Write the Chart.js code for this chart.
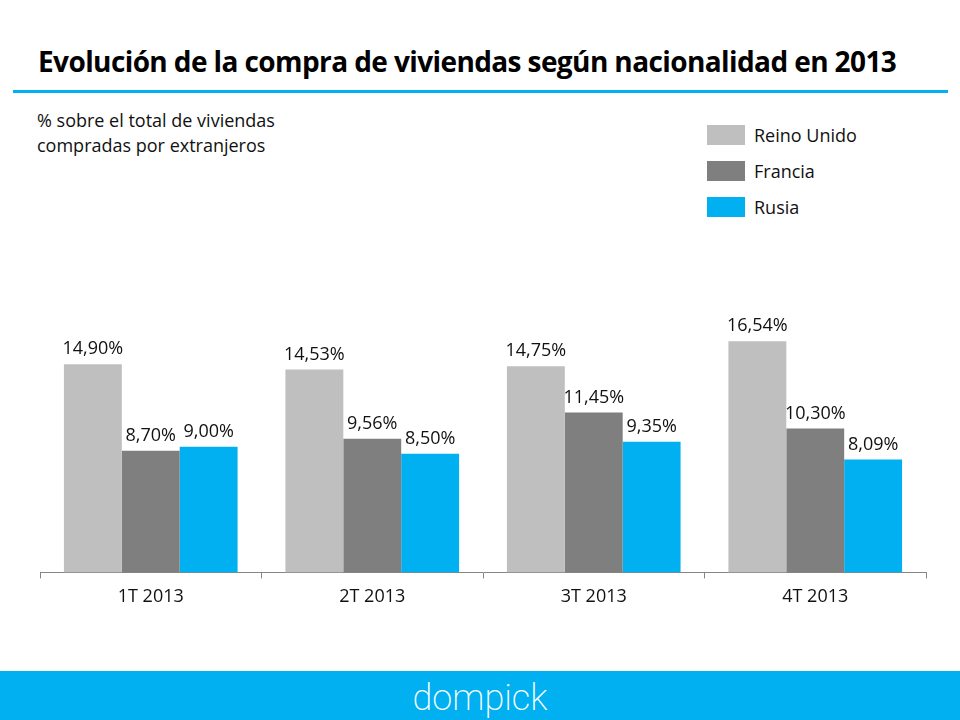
<!DOCTYPE html>
<html>
<head>
<meta charset="utf-8">
<script src="https://cdn.jsdelivr.net/npm/chart.js@4.4.1/dist/chart.umd.min.js"></script>
<style>
  body { margin: 0; width: 960px; height: 720px; position: relative; overflow: hidden; background: #fff; font-family: 'Open Sans', sans-serif; }
  #title { position: absolute; left: 38px; top: 42px; font: bold 28px 'Open Sans', sans-serif; color: #000; letter-spacing: -0.6px; white-space: nowrap; }
  #rule { position: absolute; left: 13px; top: 90px; width: 935px; height: 3px; background: #00b0f0; }
  #sub { position: absolute; left: 37px; top: 108px; font-size: 18px; line-height: 25px; color: #111; }
  #legend { position: absolute; left: 707px; top: 125px; }
  .item { height: 36px; display: flex; align-items: flex-start; font-size: 18px; color: #111; }
  .item span.sw { display: inline-block; width: 38px; height: 20px; margin-right: 9px; }
  .item span.tx { line-height: 20px; }
  #chartBox { position: absolute; left: 0; top: 0; width: 960px; height: 616px; }
  #footer { position: absolute; left: 0; top: 671px; width: 960px; height: 49px; background: #00b0f0; color: #fff; text-align: center; font: 200 36px Roboto, sans-serif; line-height: 54px; }
</style>
</head>
<body>
<div id="title">Evolución de la compra de viviendas según nacionalidad en 2013</div>
<div id="rule"></div>
<div id="sub">% sobre el total de viviendas<br>compradas por extranjeros</div>
<div id="legend"></div>
<div id="chartBox"><canvas id="chart"></canvas></div>
<div id="footer">dompick</div>
<script>
// Datos del gráfico
const categorias = ['1T 2013', '2T 2013', '3T 2013', '4T 2013'];
const series = ['Reino Unido', 'Francia', 'Rusia'];
const reinoUnido = [14.90, 14.53, 14.75, 16.54];
const francia = [8.70, 9.56, 11.45, 10.30];
const rusia = [9.00, 8.50, 9.35, 8.09];
const colores = ['#bfbfbf', '#7f7f7f', '#00b0f0'];

// Leyenda en HTML
const legend = document.getElementById('legend');
series.forEach((s, i) => {
    const d = document.createElement('div');
    d.className = 'item';
    d.innerHTML = '<span class="sw" style="background:' + colores[i] + '"></span><span class="tx">' + s + '</span>';
    legend.appendChild(d);
});

// Etiquetas de valores encima de las barras
const valueLabels = {
    id: 'valueLabels',
    afterDatasetsDraw(chart) {
        const ctx = chart.ctx;
        ctx.save();
        ctx.font = '18px "Open Sans", sans-serif';
        ctx.fillStyle = '#111';
        ctx.textAlign = 'center';
        ctx.textBaseline = 'bottom';
        chart.data.datasets.forEach((ds, i) => {
            chart.getDatasetMeta(i).data.forEach((bar, j) => {
                ctx.fillText(ds.data[j].toFixed(2).replace('.', ',') + '%', bar.x, bar.y - 6);
            });
        });
        ctx.restore();
    }
};

new Chart(document.getElementById('chart'), {
    type: 'bar',
    data: {
        labels: categorias,
        datasets: [
            { label: series[0], data: reinoUnido, backgroundColor: colores[0] },
            { label: series[1], data: francia, backgroundColor: colores[1] },
            { label: series[2], data: rusia, backgroundColor: colores[2] }
        ]
    },
    options: {
        responsive: true,
        maintainAspectRatio: false,
        animation: false,
        layout: { padding: { left: 40, right: 34, top: 293, bottom: 0 } },
        datasets: { bar: { barPercentage: 1, categoryPercentage: 0.784 } },
        plugins: { legend: { display: false }, tooltip: { enabled: false } },
        scales: {
            x: {
                grid: { display: true, drawOnChartArea: false, drawTicks: true, tickLength: 6, color: '#868686', offset: true },
                border: { color: '#868686' },
                ticks: { color: '#111', font: { size: 18, family: 'Open Sans' }, padding: 8 }
            },
            y: { display: false, min: 0, max: 20 }
        }
    },
    plugins: [valueLabels]
});
</script>
</body>
</html>
